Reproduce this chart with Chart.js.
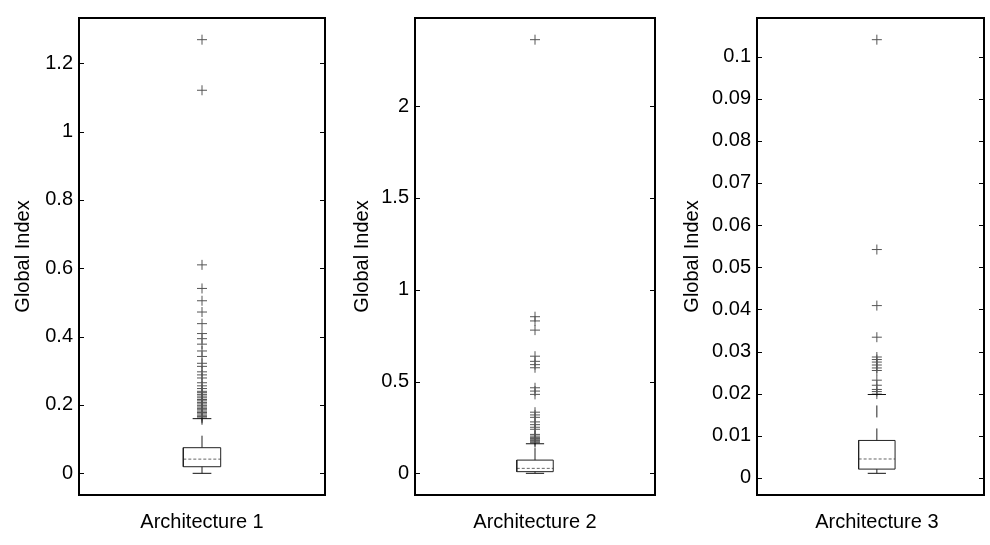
<!DOCTYPE html>
<html>
<head>
<meta charset="utf-8">
<script src="https://cdn.jsdelivr.net/npm/chart.js@4.4.0/dist/chart.umd.min.js"></script>
<style>
    html, body { margin: 0; padding: 0; background: #fff; }
    #wrap { position: relative; width: 990px; height: 545px; overflow: hidden; }
    #wrap canvas { position: absolute; left: 0; top: 0; }
</style>
</head>
<body>
<div id="wrap">
    <canvas id="c0" width="990" height="545"></canvas>
    <canvas id="c1" width="990" height="545"></canvas>
    <canvas id="c2" width="990" height="545"></canvas>
</div>
<script>
const categories = ['Architecture 1', 'Architecture 2', 'Architecture 3'];
const yTitle = 'Global Index';

// box statistics
const lowerWhisker = [0, 0, 0.0011];
const q1 = [0.0193, 0.009, 0.0021];
const median = [0.0415, 0.027, 0.0045];
const q3 = [0.075, 0.072, 0.0089];
const upperWhisker = [0.16, 0.161, 0.0198];

const outliers1 = [0.162, 0.166, 0.17, 0.174, 0.178, 0.182, 0.186, 0.19, 0.194, 0.198, 0.203, 0.207,
    0.212, 0.216, 0.221, 0.226, 0.231, 0.236, 0.24, 0.248, 0.256, 0.265, 0.279, 0.288, 0.297, 0.313,
    0.322, 0.342, 0.358, 0.378, 0.394, 0.409, 0.438, 0.472, 0.505, 0.541, 0.61, 1.121, 1.269];
const outliers2 = [0.167, 0.172, 0.178, 0.183, 0.19, 0.196, 0.203, 0.212, 0.24, 0.251, 0.265, 0.28,
    0.305, 0.318, 0.333, 0.43, 0.448, 0.466, 0.575, 0.592, 0.61, 0.638, 0.78, 0.83, 0.853, 2.362];
const outliers3 = [0.0199, 0.0205, 0.021, 0.022, 0.0232, 0.0255, 0.0261, 0.0268, 0.0275, 0.0281,
    0.0287, 0.0334, 0.0409, 0.0542, 0.104];
const outliers = [outliers1, outliers2, outliers3];

const yTicks1 = [0, 0.2, 0.4, 0.6, 0.8, 1, 1.2];
const yTicks2 = [0, 0.5, 1, 1.5, 2];
const yTicks3 = [0, 0.01, 0.02, 0.03, 0.04, 0.05, 0.06, 0.07, 0.08, 0.09, 0.1];
const yTicks = [yTicks1, yTicks2, yTicks3];

// layout of the three axes on the page
const panels = [
    { padLeft: 7, left: 79, right: 325, xMax: 1.5 },
    { padLeft: 346, left: 415, right: 655, xMax: 1.5 },
    { padLeft: 676, left: 757, right: 988, xMax: 1.447 }
];
const TOP = 13, BOTTOM = 495, X_AXIS_H = 40;
const BOX_HALF = 0.076, CAP_HALF = 0.038;
const FONT = 'Liberation Sans, Arial, Helvetica, sans-serif';

const framePlugin = {
    id: 'frame',
    afterDatasetsDraw(chart) {
        const { ctx, chartArea: a, scales } = chart;
        ctx.save();
        ctx.strokeStyle = '#000';
        ctx.lineWidth = 1;
        ctx.beginPath();
        scales.y.ticks.forEach(t => {
            const y = Math.round(scales.y.getPixelForValue(t.value)) + 0.5;
            ctx.moveTo(a.left, y); ctx.lineTo(a.left + 5, y);
            ctx.moveTo(a.right, y); ctx.lineTo(a.right - 5, y);
        });
        ctx.stroke();
        ctx.lineWidth = 2;
        ctx.strokeRect(a.left, a.top, a.right - a.left, a.bottom - a.top);
        ctx.restore();
    }
};

function seg(points, color, dash) {
    return {
        data: points,
        showLine: true,
        borderColor: color,
        borderWidth: 1,
        borderDash: dash || [],
        pointRadius: 0,
        fill: false
    };
}

function buildChart(i) {
    const p = panels[i];
    const all = [lowerWhisker[i], upperWhisker[i], ...outliers[i]];
    const lo = Math.min(...all), hi = Math.max(...all);
    const pad = (hi - lo) * 0.05;

    const datasets = [
        seg([{ x: 1 - BOX_HALF, y: q1[i] }, { x: 1 + BOX_HALF, y: q1[i] }, { x: 1 + BOX_HALF, y: q3[i] },
             { x: 1 - BOX_HALF, y: q3[i] }, { x: 1 - BOX_HALF, y: q1[i] }], '#222'),
        seg([{ x: 1 - BOX_HALF, y: median[i] }, { x: 1 + BOX_HALF, y: median[i] }], '#666', [3, 2]),
        seg([{ x: 1, y: q3[i] }, { x: 1, y: upperWhisker[i] }], '#222', [12, 11]),
        seg([{ x: 1, y: q1[i] }, { x: 1, y: lowerWhisker[i] }], '#222', [12, 11]),
        seg([{ x: 1 - CAP_HALF, y: upperWhisker[i] }, { x: 1 + CAP_HALF, y: upperWhisker[i] }], '#111'),
        seg([{ x: 1 - CAP_HALF, y: lowerWhisker[i] }, { x: 1 + CAP_HALF, y: lowerWhisker[i] }], '#111'),
        {
            data: outliers[i].map(v => ({ x: 1, y: v })),
            showLine: false,
            pointStyle: 'cross',
            pointRadius: 5,
            pointBorderWidth: 1,
            pointBorderColor: '#555',
            pointBackgroundColor: '#555'
        }
    ];

    const ctx = document.getElementById('c' + i).getContext('2d');
    return new Chart(ctx, {
        type: 'scatter',
        data: { datasets },
        options: {
            responsive: false,
            animation: false,
            layout: { padding: { left: p.padLeft, right: 990 - p.right, top: TOP, bottom: 545 - BOTTOM - X_AXIS_H } },
            plugins: { legend: { display: false }, tooltip: { enabled: false } },
            scales: {
                x: {
                    type: 'linear',
                    min: 0.5,
                    max: p.xMax,
                    afterBuildTicks: s => { s.ticks = [{ value: 1 }]; },
                    afterFit: s => { s.height = X_AXIS_H; },
                    grid: { display: false, drawTicks: false },
                    border: { display: false },
                    ticks: {
                        padding: 15,
                        maxRotation: 0,
                        autoSkip: false,
                        color: '#000',
                        font: { family: FONT, size: 20 },
                        callback: () => categories[i]
                    }
                },
                y: {
                    min: lo - pad,
                    max: hi + pad,
                    afterBuildTicks: s => { s.ticks = yTicks[i].map(v => ({ value: v })); },
                    afterFit: s => { s.width = p.left - p.padLeft; },
                    grid: { display: false, drawTicks: false },
                    border: { display: false },
                    ticks: {
                        padding: 6,
                        color: '#000',
                        font: { family: FONT, size: 20 },
                        callback: v => String(parseFloat(v.toFixed(4)))
                    },
                    title: {
                        display: true,
                        text: yTitle,
                        color: '#000',
                        font: { family: FONT, size: 20 },
                        padding: { top: 4, bottom: 4 }
                    }
                }
            }
        },
        plugins: [framePlugin]
    });
}

document.addEventListener('DOMContentLoaded', function() {
    [0, 1, 2].forEach(buildChart);
});
</script>
</body>
</html>
